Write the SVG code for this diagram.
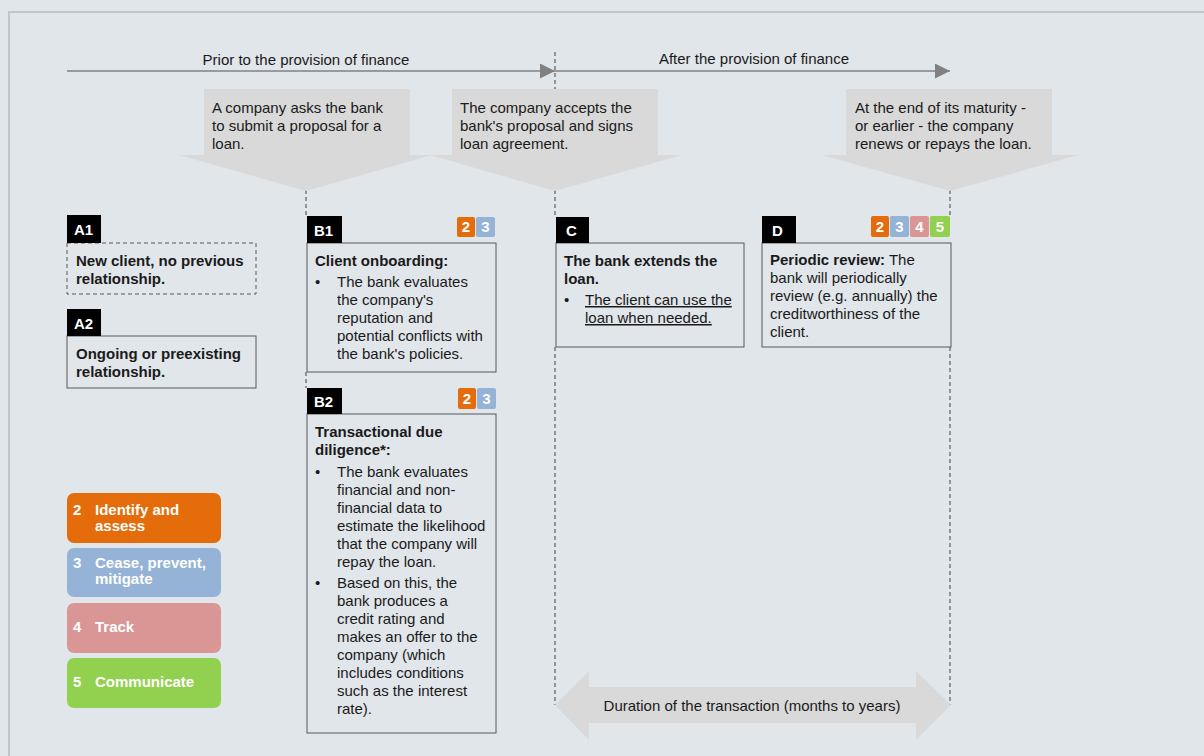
<svg xmlns="http://www.w3.org/2000/svg" width="1204" height="756" viewBox="0 0 1204 756">
<defs>
<style>
text{font-family:"Liberation Sans",Arial,sans-serif;font-size:15px;fill:#1a1a1a}
.b{font-weight:bold}
.w{fill:#fff;font-weight:bold}
.box{fill:#e1e6ea;stroke:#595959;stroke-width:1}
.tag{fill:#000}
.call{fill:#d9d9d9}
.dash{stroke:#404040;stroke-width:1;stroke-dasharray:4 3;fill:none}
.tl{stroke:#808080;stroke-width:1.3;fill:none}
.u{text-decoration:underline}
.o{fill:#e46c0a}.bl{fill:#95b3d7}.pk{fill:#d99694}.gr{fill:#92d050}
</style>
<marker id="ah" viewBox="0 0 10 10" refX="10" refY="5" markerWidth="15" markerHeight="15" markerUnits="userSpaceOnUse" orient="auto"><path d="M0,0L10,5L0,10z" fill="#808080"/></marker>
</defs>
<rect x="0" y="0" width="1204" height="756" fill="#e1e6ea"/>
<path d="M9,756V12H1204" fill="none" stroke="#c3c6c9" stroke-width="2"/>

<g id="connectors">
<path class="dash" d="M555,52V89M555,190V217M555,347V705"/>
<path class="dash" d="M306,190V216M306,372V388"/>
<path class="dash" d="M950,190V216M950,347V705"/>
<path class="tl" d="M67,71H555" marker-end="url(#ah)"/>
<path class="tl" d="M555,71H950" marker-end="url(#ah)"/>
<text x="306" y="65" text-anchor="middle">Prior to the provision of finance</text>
<text x="754" y="64" text-anchor="middle">After the provision of finance</text>
</g>

<g id="callout1">
<path class="call" d="M204,89H410V155H432L306,191L179,155H204Z"/>
<text x="212" y="113">A company asks the bank</text>
<text x="212" y="131">to submit a proposal for a</text>
<text x="212" y="149">loan.</text>
</g>
<g id="callout2">
<path class="call" d="M452,89H658V155H682L555,191L430,155H452Z"/>
<text x="460" y="113">The company accepts the</text>
<text x="460" y="131">bank's proposal and signs</text>
<text x="460" y="149">loan agreement.</text>
</g>
<g id="callout3">
<path class="call" d="M846,89H1052V155H1078L950,191L822,155H846Z"/>
<text x="855" y="113">At the end of its maturity -</text>
<text x="855" y="131">or earlier - the company</text>
<text x="855" y="149">renews or repays the loan.</text>
</g>

<g id="A1">
<rect class="box" x="67" y="243" width="189" height="51" stroke-dasharray="4 3"/>
<rect class="tag" x="67" y="215" width="34" height="28"/>
<text class="w" x="74" y="235">A1</text>
<text class="b" x="76" y="266">New client, no previous</text>
<text class="b" x="76" y="284">relationship.</text>
</g>
<g id="A2">
<rect class="box" x="67" y="336" width="189" height="52"/>
<rect class="tag" x="67" y="309" width="34" height="27"/>
<text class="w" x="74" y="329">A2</text>
<text class="b" x="76" y="359">Ongoing or preexisting</text>
<text class="b" x="76" y="377">relationship.</text>
</g>

<g id="B1">
<rect class="box" x="307" y="243" width="189" height="129"/>
<rect class="tag" x="307" y="216" width="35" height="27"/>
<text class="w" x="314" y="236">B1</text>
<rect class="o" x="457" y="217" width="18" height="20" rx="2"/>
<rect class="bl" x="476" y="217" width="19" height="20" rx="2"/>
<text class="w" x="466" y="232" text-anchor="middle">2</text>
<text class="w" x="485.5" y="232" text-anchor="middle">3</text>
<text class="b" x="315" y="266">Client onboarding:</text>
<text x="315" y="287">•</text>
<text x="337" y="287">The bank evaluates</text>
<text x="337" y="305">the company's</text>
<text x="337" y="323">reputation and</text>
<text x="337" y="341">potential conflicts with</text>
<text x="337" y="359">the bank's policies.</text>
</g>

<g id="B2">
<rect class="box" x="307" y="414" width="189" height="319"/>
<rect class="tag" x="307" y="388" width="35" height="26"/>
<text class="w" x="314" y="407">B2</text>
<rect class="o" x="458" y="388" width="18" height="21" rx="2"/>
<rect class="bl" x="477" y="388" width="19" height="21" rx="2"/>
<text class="w" x="467" y="404" text-anchor="middle">2</text>
<text class="w" x="486.5" y="404" text-anchor="middle">3</text>
<text class="b" x="315" y="437">Transactional due</text>
<text class="b" x="315" y="455">diligence*:</text>
<text x="315" y="477">•</text>
<text x="337" y="477">The bank evaluates</text>
<text x="337" y="495">financial and non-</text>
<text x="337" y="513">financial data to</text>
<text x="337" y="531">estimate the likelihood</text>
<text x="337" y="549">that the company will</text>
<text x="337" y="567">repay the loan.</text>
<text x="315" y="588">•</text>
<text x="337" y="588">Based on this, the</text>
<text x="337" y="606">bank produces a</text>
<text x="337" y="624">credit rating and</text>
<text x="337" y="642">makes an offer to the</text>
<text x="337" y="660">company (which</text>
<text x="337" y="678">includes conditions</text>
<text x="337" y="696">such as the interest</text>
<text x="337" y="714">rate).</text>
</g>

<g id="C">
<rect class="box" x="556" y="243" width="188" height="104"/>
<rect class="tag" x="556" y="217" width="33" height="26"/>
<text class="w" x="566" y="236">C</text>
<text class="b" x="564" y="266">The bank extends the</text>
<text class="b" x="564" y="284">loan.</text>
<text x="564" y="305">•</text>
<text class="u" x="585" y="305">The client can use the</text>
<text class="u" x="585" y="323">loan when needed.</text>
</g>

<g id="D">
<rect class="box" x="762" y="243" width="189" height="104"/>
<rect class="tag" x="762" y="216" width="34" height="27"/>
<text class="w" x="772" y="236">D</text>
<rect class="o" x="871" y="216" width="18" height="21" rx="2"/>
<rect class="bl" x="890" y="216" width="19" height="21" rx="2"/>
<rect class="pk" x="910" y="216" width="19" height="21" rx="2"/>
<rect class="gr" x="930" y="216" width="20" height="21" rx="2"/>
<text class="w" x="880" y="232" text-anchor="middle">2</text>
<text class="w" x="899.5" y="232" text-anchor="middle">3</text>
<text class="w" x="919.5" y="232" text-anchor="middle">4</text>
<text class="w" x="940" y="232" text-anchor="middle">5</text>
<text x="770" y="265"><tspan class="b">Periodic review:</tspan> The</text>
<text x="770" y="283">bank will periodically</text>
<text x="770" y="301">review (e.g. annually) the</text>
<text x="770" y="319">creditworthiness of the</text>
<text x="770" y="337">client.</text>
</g>

<g id="legend">
<rect class="o" x="67" y="493" width="154" height="50" rx="7"/>
<text class="w" x="73" y="515">2</text>
<text class="w" x="95" y="515">Identify and</text>
<text class="w" x="95" y="531">assess</text>
<rect class="bl" x="67" y="548" width="154" height="49" rx="7"/>
<text class="w" x="73" y="568">3</text>
<text class="w" x="95" y="568">Cease, prevent,</text>
<text class="w" x="95" y="584">mitigate</text>
<rect class="pk" x="67" y="603" width="154" height="50" rx="7"/>
<text class="w" x="73" y="632">4</text>
<text class="w" x="95" y="632">Track</text>
<rect class="gr" x="67" y="658" width="154" height="50" rx="7"/>
<text class="w" x="73" y="687">5</text>
<text class="w" x="95" y="687">Communicate</text>
</g>

<g id="duration">
<path class="call" d="M555,705L589,671V687H916V671L951,705L916,740V723H589V740Z"/>
<text x="752" y="711" text-anchor="middle">Duration of the transaction (months to years)</text>
</g>
</svg>
